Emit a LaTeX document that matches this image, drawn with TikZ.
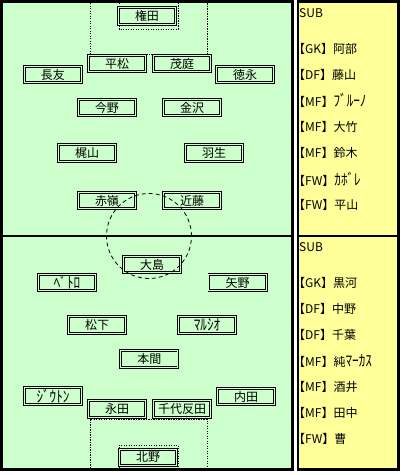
\documentclass[tikz,border=0pt]{standalone}
\usepackage{fontspec}
\usepackage{graphicx}
\setmainfont{Noto Sans CJK JP}
\definecolor{pitch}{HTML}{CCFFCC}
\definecolor{bench}{HTML}{FFFF99}
\newcommand{\hwk}[1]{\scalebox{1.1}[1.3]{#1}}
\begin{document}
\begin{tikzpicture}[x=1pt,y=-1pt,
  player/.style={draw=black, double=pitch, double distance=1pt, line width=0.85pt,
    fill=pitch, minimum width=57.3pt, minimum height=16.4pt, inner sep=0pt,
    font=\fontsize{12}{12}\selectfont},
  subtxt/.style={anchor=west, inner sep=0pt, font=\fontsize{12}{12}\selectfont},
  dotline/.style={line width=0.9pt, dash pattern=on 1.2pt off 1.3pt},
  circline/.style={line width=0.8pt, dash pattern=on 4pt off 3pt}]
\useasboundingbox (0,0) rectangle (401,475);
\fill[white] (0,0) rectangle (401,475);
% pitch panel
\fill[pitch] (0,0) rectangle (294,471);
\draw[line width=3pt] (1.5,1.5) rectangle (292.5,469.5);
\draw[line width=2.5pt] (0,236) -- (294,236);
% bench panel
\fill[bench] (297,0) rectangle (400,471);
\draw[line width=2.5pt] (298,1.5) rectangle (398.5,469.5);
\draw[line width=2.5pt] (297,236) -- (400,236);
% field markings
\draw[dotline] (90,3) -- (90,54) -- (207,54) -- (207,3);
\draw[dotline] (119,3) -- (119,29) -- (178,29) -- (178,3);
\draw[dotline] (90,468) -- (90,419) -- (207,419) -- (207,468);
\draw[dotline] (119,468) -- (119,445) -- (178,445) -- (178,468);
% upper team
\node[player] (gonda) at (147,16) {権田};
\node[player] (hiramatsu) at (117,63.5) {平松};
\node[player] (moniwa) at (182,63.5) {茂庭};
\node[player] (nagatomo) at (53,74.5) {長友};
\node[player] (tokunaga) at (245,74.5) {徳永};
\node[player] (konno) at (107,107.5) {今野};
\node[player] (kanazawa) at (192,107.5) {金沢};
\node[player] (kajiyama) at (87,153) {梶山};
\node[player] (hanyu) at (214,153) {羽生};
\node[player] (akamine) at (107,200.5) {赤嶺};
\node[player] (kondo) at (192,200.5) {近藤};
% lower team
\node[player] (oshima) at (152,264.5) {大島};
\node[player] (petoro) at (67,282.5) {\hwk{ﾍﾟﾄﾛ}};
\node[player] (yano) at (237.5,282.5) {矢野};
\node[player] (matsushita) at (97,325) {松下};
\node[player] (marcio) at (207,325) {\hwk{ﾏﾙｼｵ}};
\node[player] (honma) at (149.3,359) {本間};
\node[player] (jiuton) at (53,396) {\hwk{ｼﾞｳﾄﾝ}};
\node[player] (nagata) at (117,409) {永田};
\node[player] (chiyotanda) at (182,409) {千代反田};
\node[player] (uchida) at (246,396.5) {内田};
\node[player] (kitano) at (148,457.5) {北野};
% center circle
\draw[circline] (149,236) circle [radius=42.5pt];
% subs upper
\node[subtxt] (s1) at (299,13.5) {SUB};
\node[subtxt] (u1) at (293,49) {【GK】阿部};
\node[subtxt] (u2) at (293,75) {【DF】藤山};
\node[subtxt] (u3) at (293,100) {【MF】\hwk{ﾌﾞﾙｰﾉ}};
\node[subtxt] (u4) at (293,127) {【MF】大竹};
\node[subtxt] (u5) at (293,153) {【MF】鈴木};
\node[subtxt] (u6) at (293,179) {【FW】\hwk{ｶﾎﾞﾚ}};
\node[subtxt] (u7) at (293,205) {【FW】平山};
% subs lower
\node[subtxt] (s2) at (299,247) {SUB};
\node[subtxt] (l1) at (293,283) {【GK】黒河};
\node[subtxt] (l2) at (293,309) {【DF】中野};
\node[subtxt] (l3) at (293,335) {【DF】千葉};
\node[subtxt] (l4) at (293,361) {【MF】純\hwk{ﾏｰｶｽ}};
\node[subtxt] (l5) at (293,387) {【MF】酒井};
\node[subtxt] (l6) at (293,413) {【MF】田中};
\node[subtxt] (l7) at (293,439) {【FW】曹};
\end{tikzpicture}
\end{document}
